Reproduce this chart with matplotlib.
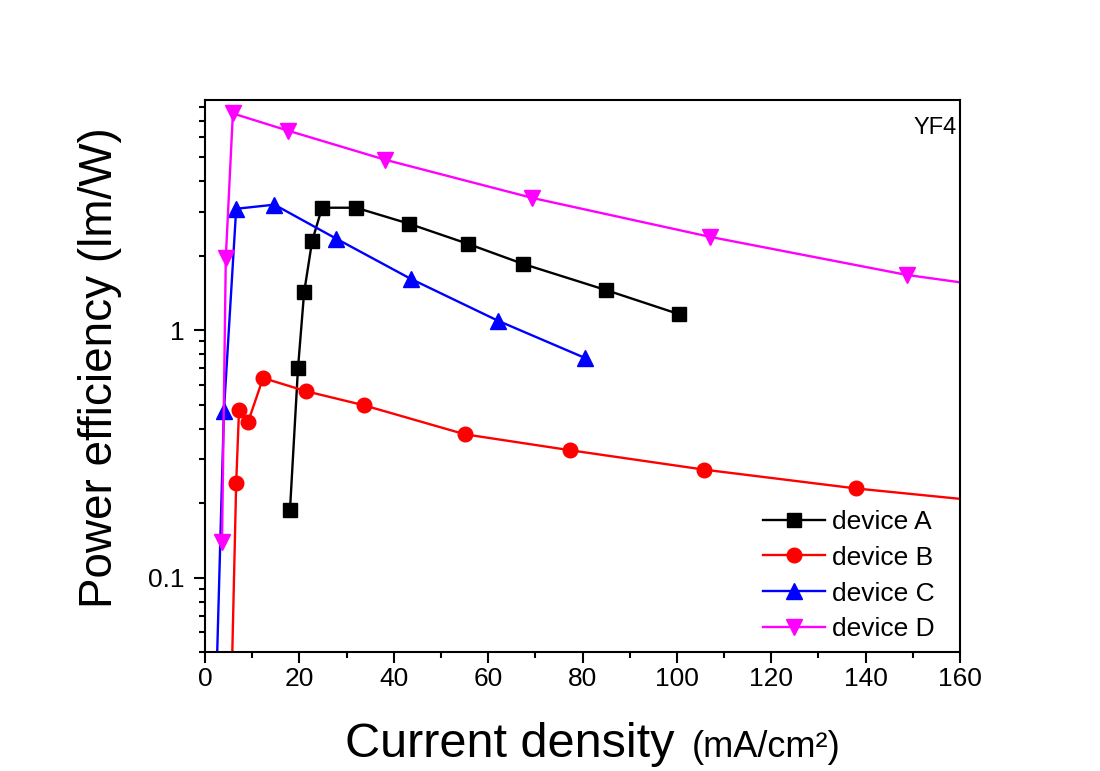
import matplotlib
matplotlib.use("Agg")
import matplotlib.pyplot as plt
from matplotlib.ticker import LogLocator, NullFormatter, FixedLocator, FixedFormatter

plt.rcParams["font.family"] = ["Liberation Sans", "DejaVu Sans"]

# device A (black squares)
a_x = [18.0, 19.7, 21.0, 22.7, 24.8, 32.0, 43.2, 55.7, 67.4, 85.0, 100.4]
a_y = [0.187, 0.70, 1.42, 2.29, 3.12, 3.12, 2.69, 2.23, 1.85, 1.45, 1.16]
# device B (red circles) - first and last points fall outside the view
b_x = [5.3, 6.6, 7.2, 9.1, 12.3, 21.4, 33.6, 55.1, 77.3, 105.7, 138.0, 170.0]
b_y = [0.02, 0.24, 0.474, 0.424, 0.64, 0.566, 0.497, 0.379, 0.327, 0.273, 0.229, 0.199]
# device C (blue up triangles)
c_x = [2.0, 4.0, 6.6, 14.7, 27.8, 43.6, 62.1, 80.6]
c_y = [0.02, 0.47, 3.09, 3.21, 2.34, 1.61, 1.09, 0.77]
# device D (magenta down triangles)
d_x = [3.6, 4.4, 5.9, 17.6, 38.1, 69.3, 107.0, 148.7, 190.0]
d_y = [0.139, 1.96, 7.5, 6.39, 4.88, 3.42, 2.38, 1.67, 1.30]

fig = plt.figure(figsize=(11, 7.71), dpi=100)
ax = fig.add_axes([0.1864, 0.1543, 0.6863, 0.716])

lw = 1.7
ax.plot(a_x, a_y, "s-", color="black", lw=lw, ms=9.5, label="device A")
ax.plot(b_x, b_y, "o-", color="#ff0000", lw=lw, ms=10.5, label="device B")
ax.plot(c_x, c_y, "^-", color="#0000ff", lw=lw, ms=11.5, label="device C")
ax.plot(d_x, d_y, "v-", color="#ff00ff", lw=lw, ms=11.5, label="device D")

ax.set_yscale("log")
ax.set_xlim(0, 160)
ax.set_ylim(0.05, 8.5)

ax.xaxis.set_major_locator(FixedLocator(range(0, 161, 20)))
ax.xaxis.set_minor_locator(FixedLocator(range(10, 160, 20)))
ax.yaxis.set_major_locator(FixedLocator([0.1, 1]))
ax.yaxis.set_major_formatter(FixedFormatter(["0.1", "1"]))
ax.yaxis.set_minor_locator(LogLocator(base=10, subs=range(2, 10)))
ax.yaxis.set_minor_formatter(NullFormatter())

ax.tick_params(which="both", direction="out", width=1.5, top=False, right=False)
ax.tick_params(which="major", length=8, labelsize=19)
ax.tick_params(axis="y", which="major", pad=7)
ax.tick_params(axis="x", which="major", pad=3)
ax.tick_params(which="minor", length=4)
for s in ax.spines.values():
    s.set_linewidth(1.5)

ax.set_ylabel("Power efficiency (lm/W)", fontsize=33)
ax.yaxis.set_label_coords(-0.11, 0.516)

fig.text(345 / 1100, 1 - 757 / 771, "Current density", fontsize=35,
         ha="left", va="baseline")
fig.text(692 / 1100, 1 - 757 / 771, "(mA/cm²)", fontsize=26,
         ha="left", va="baseline")

ax.text(0.996, 0.97, "YF4", transform=ax.transAxes, fontsize=17,
        ha="right", va="top")

ax.legend(loc="lower right", bbox_to_anchor=(0.981, 0.0), frameon=False,
          fontsize=19, handlelength=2.35, labelspacing=0.45, handletextpad=0.3,
          borderaxespad=0)

fig.savefig("out.png", dpi=100, facecolor="white")
